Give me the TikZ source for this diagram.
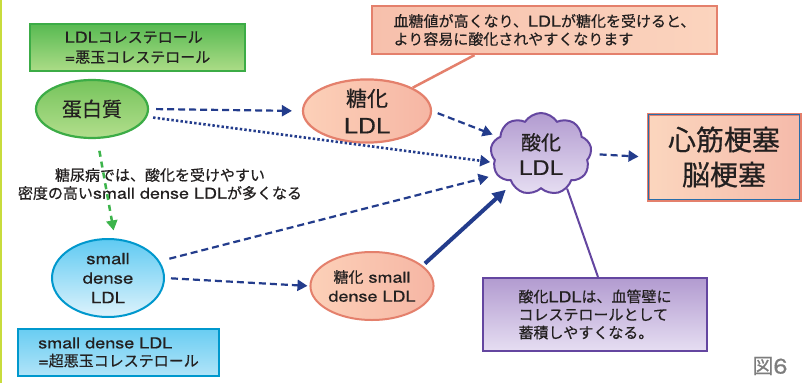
\documentclass[tikz,border=0pt]{standalone}
\usepackage{fontspec}
\setmainfont{Noto Sans CJK JP}[FakeBold=0.5]
\newfontfamily\lf[FakeStretch=1.2,FakeBold=0.5]{TeX Gyre Heros}
\usetikzlibrary{shapes.geometric,shapes.symbols,arrows.meta}
\newcommand\myfs[2]{\fontsize{#1}{#2}\selectfont}
\definecolor{txt}{RGB}{35,32,32}
\definecolor{navy}{RGB}{35,60,140}
\definecolor{lime}{RGB}{200,220,60}
\definecolor{grnB}{RGB}{60,172,70}
\definecolor{grnA}{RGB}{60,180,75}
\definecolor{grnT}{RGB}{88,186,82}
\definecolor{grnL}{RGB}{172,220,135}
\definecolor{proT}{RGB}{118,196,92}
\definecolor{proL}{RGB}{178,222,140}
\definecolor{salB}{RGB}{228,128,108}
\definecolor{salA}{RGB}{252,208,184}
\definecolor{salC}{RGB}{246,182,164}
\definecolor{pbA}{RGB}{247,192,172}
\definecolor{pbC}{RGB}{251,212,190}
\definecolor{resA}{RGB}{251,214,190}
\definecolor{resB}{RGB}{245,186,170}
\definecolor{resIn}{RGB}{40,110,170}
\definecolor{purB}{RGB}{100,70,160}
\definecolor{purT}{RGB}{178,155,208}
\definecolor{purL}{RGB}{230,222,242}
\definecolor{bluB}{RGB}{0,152,205}
\definecolor{bluT}{RGB}{95,202,242}
\definecolor{bluL}{RGB}{222,243,252}
\definecolor{bbT}{RGB}{105,205,242}
\definecolor{bbL}{RGB}{178,228,248}
\definecolor{figc}{RGB}{125,125,125}
\tikzset{
  ell/.style={ellipse, line width=2.2pt, inner sep=0pt, align=center},
  boxn/.style={rectangle, line width=2pt, inner sep=0pt},
  dsh/.style={navy, line width=2.2pt, dash pattern=on 7pt off 4pt, -{Triangle[length=10pt,width=11pt]}},
  dotl/.style={navy, line width=2.6pt, dash pattern=on 2.4pt off 2.2pt, -{Triangle[length=10pt,width=11pt]}},
  grnarr/.style={grnA, line width=2.5pt, dash pattern=on 6pt off 5pt, -{Triangle[length=10pt,width=11pt]}},
}
\begin{document}
\begin{tikzpicture}[x=1pt,y=-1pt, every node/.style={text=txt}]
\fill[white] (0,0) rectangle (805,383);
\useasboundingbox (0,0) rectangle (805,383);
\fill[lime] (0,0) rectangle (2.2,383);

% nodes
\node[boxn, draw=grnB, top color=grnT, bottom color=grnL, minimum width=215pt, minimum height=47pt, align=left, font={\myfs{15}{20}}] (gb) at (137.5,47.5) {{\lf LDL}コレステロール\\{\lf =}悪玉コレステロール};

\node[ell, draw=grnB, top color=proT, bottom color=proL, minimum width=112pt, minimum height=58pt, font={\myfs{20}{24}}] (pro) at (92,109) {蛋白質};

\node[ell, draw=salB, left color=salA, right color=salC, minimum width=128pt, minimum height=62pt, font={\myfs{21}{27}}] (gl) at (367,111) {糖化\\{\lf LDL}};

\node[boxn, draw=salB, line width=2.2pt, left color=pbA, right color=pbC, minimum width=345pt, minimum height=48pt, align=left, font={\myfs{15}{18}}] (pb) at (544.5,30) {血糖値が高くなり、{\lf LDL}が糖化を受けると、\\より容易に酸化されやすくなります};

\node[cloud, cloud puffs=9, cloud puff arc=115, aspect=1.25, draw=purB, line width=2pt, top color=purT, bottom color=purL, minimum width=101pt, minimum height=82pt, inner sep=0pt, align=center, font={\myfs{20}{25}}] (cld) at (541,154) {酸化\\{\lf LDL}};

\node[boxn, draw=salB, line width=3pt, left color=resA, right color=resB, minimum width=152pt, minimum height=86pt, align=center, font={\myfs{28}{35}}] (res) at (724,157) {心筋梗塞\\脳梗塞};
\draw[resIn, line width=1.2pt] ([shift={(2.3,2.3)}]res.north west) rectangle ([shift={(-2.3,-2.3)}]res.south east);

\node[align=center, font={\myfs{15}{18}}] (note) at (160,184) {糖尿病では、酸化を受けやすい\\密度の高い{\lf small dense LDL}が多くなる};

\node[ell, draw=bluB, line width=2pt, top color=bluT, bottom color=bluL, minimum width=112pt, minimum height=78pt, font={\lf\myfs{15.5}{19.5}}] (sd) at (108,278) {small\\dense\\LDL};

\node[boxn, draw=bluB, top color=bbT, bottom color=bbL, minimum width=201pt, minimum height=47pt, align=left, font={\myfs{15}{18}}] (bb) at (118.5,352.5) {{\lf small dense LDL}\\{\lf =}超悪玉コレステロール};

\node[ell, draw=salB, line width=2pt, left color=salA, right color=salC, minimum width=120pt, minimum height=68pt, font={\myfs{15}{19}}] (gsd) at (372,286) {糖化{\lf\ small}\\{\lf dense LDL}};

\node[boxn, draw=purB, top color=purT, bottom color=purL, minimum width=224pt, minimum height=73pt, align=left, font={\myfs{15}{18}}] (pp) at (595,314.5) {酸化{\lf LDL}は、血管壁に\\コレステロールとして\\蓄積しやすくなる。};

\node[text=figc, font={\myfs{21}{21}}] (fig) at (770,366) {図{\lf 6}};

% connectors
\draw[dsh, shorten <=7pt, shorten >=10pt] (pro.east) -- (gl.west);
\draw[dotl, shorten <=6pt, shorten >=3pt] (pro.-8) -- (cld.190);
\draw[dsh, shorten <=6pt, shorten >=6pt] (gl.east) -- (cld.158);
\draw[dsh, shorten <=10pt, shorten >=8pt] (sd.18) -- (cld.205);
\draw[dsh, shorten <=6pt, shorten >=2pt] (sd.east) -- (gsd.west);
\draw[navy, line width=4pt, -{Triangle[length=13pt,width=13pt]}, shorten <=3pt, shorten >=8pt] (gsd.22) -- (cld.226);
\draw[dsh, shorten <=8pt, shorten >=8pt] (cld.east) -- (res.west);
\draw[grnarr, shorten <=12pt, shorten >=8pt] (pro.-80) -- (sd.80);
\draw[salB, line width=2.5pt] ([xshift=-70pt]pb.south) -- (gl.27);
\draw[purB, line width=2pt] (cld.-53) -- ([xshift=3pt]pp.north);
\end{tikzpicture}
\end{document}
